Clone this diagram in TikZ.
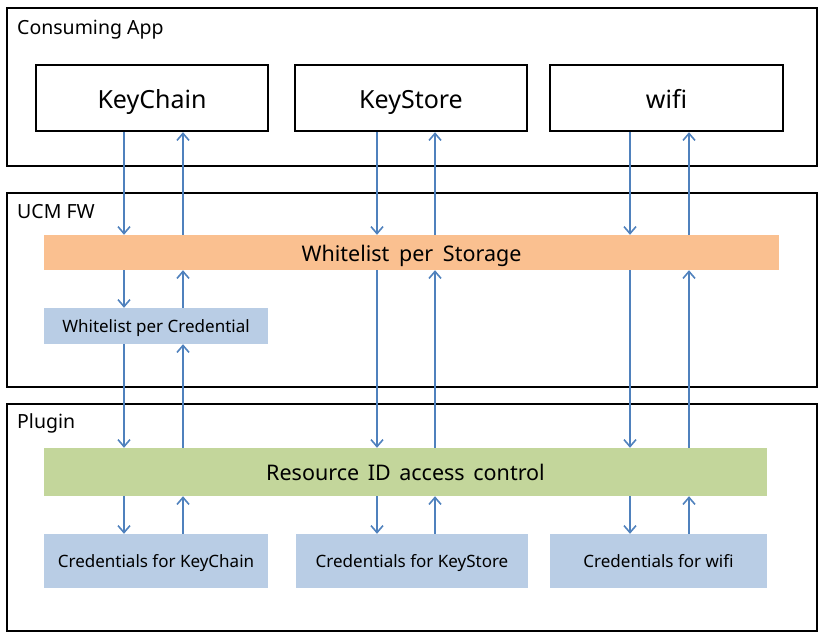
\documentclass[tikz,border=0pt]{standalone}
\usepackage{fontspec}
\setmainfont{Noto Sans}
\usetikzlibrary{arrows.meta,calc}
\definecolor{arrblue}{HTML}{4F81BD}
\definecolor{orangebar}{HTML}{FAC090}
\definecolor{greenbar}{HTML}{C3D69B}
\definecolor{bluebox}{HTML}{B9CDE5}
\tikzset{
  layer/.style={draw=black,line width=2.6pt,rectangle,inner sep=0pt},
  appnode/.style={draw=black,line width=2.4pt,rectangle,inner sep=0pt,minimum width=232pt,minimum height=66pt,font=\fontsize{25}{30}\selectfont,text height=20pt,text depth=0pt},
  bar/.style={rectangle,inner sep=0pt,font=\fontsize{21.5}{26}\selectfont,text height=17pt,text depth=0pt},
  small/.style={rectangle,fill=bluebox,inner sep=0pt,minimum height=54pt,font=\fontsize{17}{20}\selectfont,text height=13.6pt,text depth=0pt},
  layertitle/.style={anchor=base west,inner sep=0pt,font=\fontsize{19.5}{23}\selectfont},
  arr/.style={draw=arrblue,line width=1.6pt,-{Straight Barb[length=7pt,width=12pt,line width=1.6pt]}}
}
\begin{document}
\begin{tikzpicture}[x=1pt,y=-1pt]
\useasboundingbox (0,0) rectangle (824,640);
% layers
\node[layer,minimum width=810pt,minimum height=158pt] (app) at (412,87) {};
\node[layer,minimum width=810pt,minimum height=194pt] (fw) at (412,290) {};
\node[layer,minimum width=810pt,minimum height=227pt] (plug) at (412,517.5) {};
\node[layertitle] (appt) at (17,34) {Consuming App};
\node[layertitle] (fwt) at (17,218) {UCM FW};
\node[layertitle] (plugt) at (17,428) {Plugin};
% apps
\node[appnode] (kc) at (152,98) {KeyChain};
\node[appnode] (ks) at (411,98) {KeyStore};
\node[appnode,minimum width=233pt] (wf) at (666.5,98) {wifi};
% bars
\node[bar,fill=orangebar,minimum width=735pt,minimum height=35pt] (st) at (411.5,252.5) {Whitelist\hspace{0.45em}per\hspace{0.45em}Storage};
\node[small,minimum width=224pt,minimum height=36pt] (wc) at (156,326) {Whitelist per Credential};
\node[bar,fill=greenbar,minimum width=723pt,minimum height=48pt] (rid) at (405.5,472) {Resource\hspace{0.4em}ID\hspace{0.4em}access\hspace{0.4em}control};
\node[small,minimum width=224pt] (ckc) at (156,561) {Credentials for KeyChain};
\node[small,minimum width=232pt] (cks) at (412,561) {Credentials for KeyStore};
\node[small,minimum width=217pt] (cw) at (658.5,561) {Credentials for wifi};
% arrow columns
\coordinate (d1) at (124,0); \coordinate (u1) at (183,0);
\coordinate (d2) at (377,0); \coordinate (u2) at (435,0);
\coordinate (d3) at (630,0); \coordinate (u3) at (689,0);
% KeyChain column
\draw[arr] (kc.south -| d1) -- (st.north -| d1);
\draw[arr] (st.north -| u1) -- (kc.south -| u1);
\draw[arr] (st.south -| d1) -- (wc.north -| d1);
\draw[arr] (wc.north -| u1) -- (st.south -| u1);
\draw[arr] (wc.south -| d1) -- (rid.north -| d1);
\draw[arr] (rid.north -| u1) -- (wc.south -| u1);
\draw[arr] (rid.south -| d1) -- (ckc.north -| d1);
\draw[arr] (ckc.north -| u1) -- (rid.south -| u1);
% KeyStore column
\draw[arr] (ks.south -| d2) -- (st.north -| d2);
\draw[arr] (st.north -| u2) -- (ks.south -| u2);
\draw[arr] (st.south -| d2) -- (rid.north -| d2);
\draw[arr] (rid.north -| u2) -- (st.south -| u2);
\draw[arr] (rid.south -| d2) -- (cks.north -| d2);
\draw[arr] (cks.north -| u2) -- (rid.south -| u2);
% wifi column
\draw[arr] (wf.south -| d3) -- (st.north -| d3);
\draw[arr] (st.north -| u3) -- (wf.south -| u3);
\draw[arr] (st.south -| d3) -- (rid.north -| d3);
\draw[arr] (rid.north -| u3) -- (st.south -| u3);
\draw[arr] (rid.south -| d3) -- (cw.north -| d3);
\draw[arr] (cw.north -| u3) -- (rid.south -| u3);
\end{tikzpicture}
\end{document}
